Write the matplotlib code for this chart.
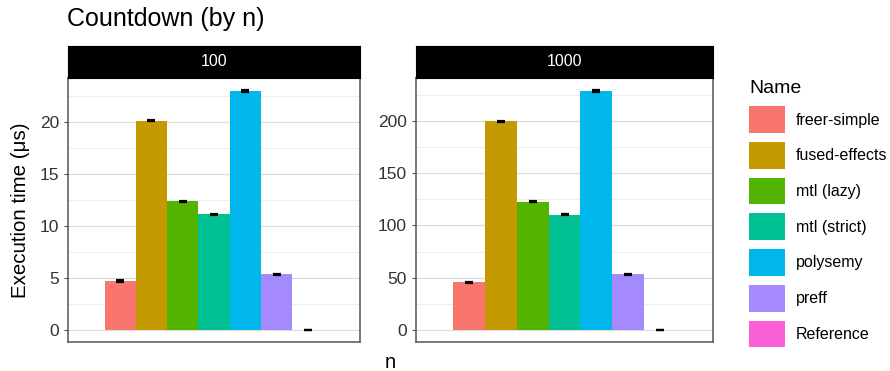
import matplotlib
matplotlib.use("Agg")
import matplotlib.pyplot as plt
import numpy as np
from matplotlib.patches import Patch

plt.rcParams["font.family"] = ["Liberation Sans", "DejaVu Sans"]

# ---------------------------------------------------------------------------
# Data
# ---------------------------------------------------------------------------
names = ["freer-simple", "fused-effects", "mtl (lazy)", "mtl (strict)",
         "polysemy", "preff", "Reference"]
colors = ["#F8766D", "#C49A00", "#53B400", "#00C094",
          "#00B6EB", "#A58AFF", "#FB61D7"]

n_values = ["100", "1000"]
times_100 = [4.7, 20.1, 12.35, 11.1, 22.95, 5.35, 0.02]
err_100 = [0.06, 0.08, 0.07, 0.06, 0.09, 0.06, 0.01]
times_1000 = [45.6, 199.4, 122.8, 110.4, 228.6, 53.3, 0.2]
err_1000 = [0.6, 0.8, 0.7, 0.6, 0.9, 0.6, 0.1]

panels = [(times_100, err_100, [0, 5, 10, 15, 20], 2.5),
          (times_1000, err_1000, [0, 50, 100, 150, 200], 25)]

# ---------------------------------------------------------------------------
# Figure
# ---------------------------------------------------------------------------
fig = plt.figure(figsize=(8.9, 3.71), dpi=100)
W, H = 890, 371

def frac_box(x0, y0, x1, y1):
    return [x0 / W, 1 - y1 / H, (x1 - x0) / W, (y1 - y0) / H]

axes_boxes = [(68, 78, 360, 342), (416, 78, 713, 342)]
strip_boxes = [(68, 46, 360, 78), (416, 46, 713, 78)]

width = 0.9 / len(names)
for (vals, errs, ticks, minor_step), box, sbox, label in zip(panels, axes_boxes, strip_boxes, n_values):
    ax = fig.add_axes(frac_box(*box))
    x = 1 - 0.45 + width / 2 + np.arange(len(names)) * width
    ax.bar(x, vals, width=width, color=colors, zorder=2)
    ax.errorbar(x, vals, yerr=errs, fmt="none", ecolor="black",
                elinewidth=1.0, capsize=3, capthick=1.6, zorder=3)

    top = max(v + e for v, e in zip(vals, errs))
    pad = top * 0.05
    ax.set_ylim(-pad, top + pad)
    ax.set_xlim(0.4, 1.6)
    ax.set_yticks(ticks)
    ax.set_yticklabels([str(t) for t in ticks], fontsize=12.5, color="#333333")
    minor = np.arange(minor_step, top + pad, minor_step * 2)
    ax.set_yticks(minor, minor=True)
    ax.tick_params(axis="y", which="minor", length=0)
    ax.tick_params(axis="y", which="major", length=3, color="#555555")
    ax.set_xticks([])
    ax.grid(axis="y", which="major", color="#DDDDDD", linewidth=0.9, zorder=0)
    ax.grid(axis="y", which="minor", color="#EBEBEB", linewidth=0.6, zorder=0)
    for s in ax.spines.values():
        s.set_color("#555555")
        s.set_linewidth(1.1)

    sax = fig.add_axes(frac_box(*sbox))
    sax.set_facecolor("black")
    sax.set_xticks([])
    sax.set_yticks([])
    for s in sax.spines.values():
        s.set_color("black")
    sax.text(0.5, 0.5, label, color="white", fontsize=11.5,
             ha="center", va="center", transform=sax.transAxes)

fig.text(67 / W, 1 - 19 / H, "Countdown (by n)", fontsize=18, ha="left", va="center")
fig.text(21 / W, 1 - 210 / H, "Execution time (μs)", fontsize=14.8,
         rotation=90, ha="center", va="center")
fig.text(390 / W, 1 - 362 / H, "n", fontsize=14.5, ha="center", va="center")

handles = [Patch(facecolor=c, edgecolor="none") for c in colors]
leg = fig.legend(handles, names, loc="upper left", bbox_to_anchor=(743 / W, 1 - 74 / H),
                 frameon=False, fontsize=11.5, title="Name", title_fontsize=14,
                 handlelength=2.2, handleheight=2.2, labelspacing=0.56,
                 handletextpad=0.7, borderaxespad=0)
leg._legend_box.align = "left"

fig.savefig("out.png", dpi=100)
